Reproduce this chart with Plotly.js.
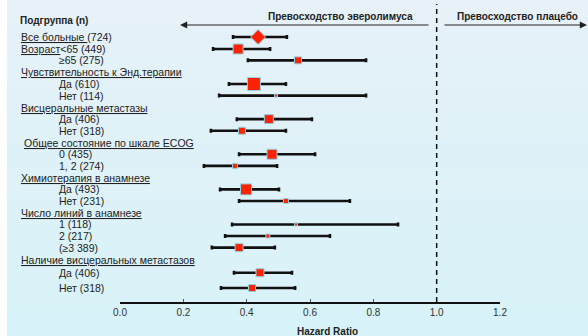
<!DOCTYPE html>
<html>
<head>
<meta charset="utf-8">
<script src="https://cdn.plot.ly/plotly-3.0.1.min.js"></script>
<style>html,body{margin:0;padding:0;background:#fff;}#chart{width:588px;height:336px;}</style>
</head>
<body>
<div id="chart"></div>
<script>
// Row labels (in display order); group titles have no estimate
var rowLabels = [
  "<u>Все больные </u>(724)",
  "<u>Возраст</u><65 (449)",
  "≥65 (275)",
  "<u>Чувствительность к Энд.терапии</u>",
  "Да (610)",
  "Нет (114)",
  "<u>Висцеральные метастазы</u>",
  "Да (406)",
  "Нет (318)",
  "<u>Общее состояние по шкале ECOG</u>",
  "0 (435)",
  "1, 2 (274)",
  "<u>Химиотерапия в анамнезе</u>",
  "Да (493)",
  "Нет (231)",
  "<u>Число линий в анамнезе</u>",
  "1 (118)",
  "2 (217)",
  "(≥3 389)",
  "<u>Наличие висцеральных метастазов</u>",
  "Да (406)",
  "Нет (318)"
];
// layout: indentation level and vertical slot of each row
var rowIndent = [0,0,1,0,1,1,0,1,1,0,1,1,0,1,1,0,1,1,1,0,1,1];
var rowPos = [0,1.0,1.95,2.96,3.93,4.9,5.9,6.87,7.84,8.84,9.81,10.78,11.78,12.75,13.72,14.71,15.68,16.65,17.62,18.68,19.72,21.0];

// Estimates (hazard ratio) with 95% CI; null for title rows
var hr    = [0.436,0.373,0.562,null,0.423,0.493,null,0.470,0.385,null,0.480,0.363,null,0.398,0.524,null,0.556,0.467,0.376,null,0.442,0.417];
var ciLow = [0.357,0.294,0.404,null,0.344,0.313,null,0.369,0.287,null,0.376,0.265,null,0.316,0.376,null,0.354,0.332,0.290,null,0.360,0.319];
var ciHigh= [0.527,0.474,0.777,null,0.524,0.777,null,0.606,0.524,null,0.616,0.496,null,0.502,0.726,null,0.878,0.663,0.489,null,0.543,0.553];
var weight= [11.5,10,7,null,13,3,null,9,7,null,10,5,null,11,5,null,3,4,8,null,8,7];
var xTicks = [0, 0.2, 0.4, 0.6, 0.8, 1.0, 1.2];
var xTickText = ["0.0","0.2","0.4","0.6","0.8","1.0","1.2"];

var leftHeader = "Превосходство эверолимуса";
var rightHeader = "Превосходство плацебо";
var colHeader = "Подгруппа (n)";
var xTitle = "Hazard Ratio";

var xs=[], ys=[], ep=[], em=[], sz=[], sym=[];
for (var i=0;i<hr.length;i++){
  if (hr[i]===null) continue;
  xs.push(hr[i]); ys.push(rowPos[i]);
  ep.push(ciHigh[i]-hr[i]); em.push(hr[i]-ciLow[i]);
  sz.push(weight[i]); sym.push(i===0?'diamond':'square');
}

var trace = {
  type:'scatter', mode:'markers', x:xs, y:ys, cliponaxis:false,
  marker:{symbol:sym, size:sz, color:'#ff2200', opacity:1, line:{color:'#8fd3ea', width:1}},
  error_x:{type:'data', symmetric:false, array:ep, arrayminus:em, color:'#111', thickness:2.6, width:2},
  hoverinfo:'skip', showlegend:false
};

// pixel helpers for page-level placement
var W=588,H=336,L=120,R=88,T=8,B=34;
var pw=W-L-R, ph=H-T-B;
function px(x){return (x-L)/pw;}
function py(y){return (H-B-y)/ph;}

var ann = [];
var txtFont = {family:'Liberation Sans, Arial, sans-serif', size:10.5, color:'#222'};
for (var j=0;j<rowLabels.length;j++){
  var xl = rowIndent[j] ? 58 : (j===9 ? 23 : 20);
  ann.push({xref:'paper', yref:'y', x:px(xl), y:rowPos[j], xanchor:'left', yanchor:'middle', borderpad:0,
    text:rowLabels[j], showarrow:false, font:txtFont});
}
var boldFont = {family:'Liberation Sans, Arial, sans-serif', size:10, color:'#222', weight:'bold'};
ann.push({xref:'paper', yref:'paper', x:px(18), y:py(20), xanchor:'left', yanchor:'middle', text:'<b>'+colHeader+'</b>', showarrow:false, font:boldFont});
ann.push({xref:'paper', yref:'paper', x:px(340), y:py(16), xanchor:'center', yanchor:'middle', text:'<b>'+leftHeader+'</b>', showarrow:false, font:boldFont});
ann.push({xref:'paper', yref:'paper', x:px(517), y:py(16), xanchor:'center', yanchor:'middle', text:'<b>'+rightHeader+'</b>', showarrow:false, font:boldFont});
ann.push({xref:'paper', yref:'paper', x:px(327), y:py(331), xanchor:'center', yanchor:'middle', text:'<b>'+xTitle+'</b>', showarrow:false, font:boldFont});
// arrows
ann.push({xref:'paper', yref:'paper', x:px(180), y:py(25), ax:250, ay:0, text:'', showarrow:true, arrowhead:2, arrowsize:1.2, arrowwidth:1.2, arrowcolor:'#222'});
ann.push({xref:'paper', yref:'paper', x:px(587), y:py(25), ax:-144, ay:0, text:'', showarrow:true, arrowhead:2, arrowsize:1.2, arrowwidth:1.2, arrowcolor:'#222'});

// subtle vertical background gradient, as bands
var shapes = [];
var nb = 12, c0=[230,241,248], c1=[215,242,248];
for (var k=0;k<nb;k++){
  var t=k/(nb-1);
  var c='rgb('+Math.round(c0[0]+(c1[0]-c0[0])*t)+','+Math.round(c0[1]+(c1[1]-c0[1])*t)+','+Math.round(c0[2]+(c1[2]-c0[2])*t)+')';
  shapes.push({type:'rect', xref:'paper', yref:'paper', x0:px(7), x1:px(W), y0:py(H*(k+1)/nb+0.5), y1:py(H*k/nb), fillcolor:c, line:{width:0}, layer:'below'});
}
shapes.push({type:'rect', xref:'paper', yref:'paper', x0:px(0), x1:px(7), y0:py(H), y1:py(0), fillcolor:'#ffffff', line:{width:0}, layer:'below'});
shapes.push({type:'line', xref:'x', yref:'paper', x0:1, x1:1, y0:0, y1:py(4), line:{color:'#111', width:1.5, dash:'5px,4px'}});

var layout = {
  width:W, height:H, margin:{l:L, r:R, t:T, b:B},
  paper_bgcolor:'#dff1f7', plot_bgcolor:'rgba(0,0,0,0)',
  font:{family:'Liberation Sans, Arial, sans-serif', color:'#222'},
  xaxis:{range:[0,1.2], tickvals:xTicks, ticktext:xTickText, showgrid:false, zeroline:false,
    showline:true, linecolor:'#111', linewidth:1.5, ticks:'inside', ticklen:3, tickcolor:'#555',
    tickfont:{size:10, color:'#333'}, fixedrange:true},
  yaxis:{range:[22.17,-2.43], autorange:false, visible:false, fixedrange:true},
  annotations:ann, shapes:shapes, showlegend:false
};
Plotly.newPlot('chart',[trace],layout,{displayModeBar:false, staticPlot:true});
</script>
</body>
</html>
